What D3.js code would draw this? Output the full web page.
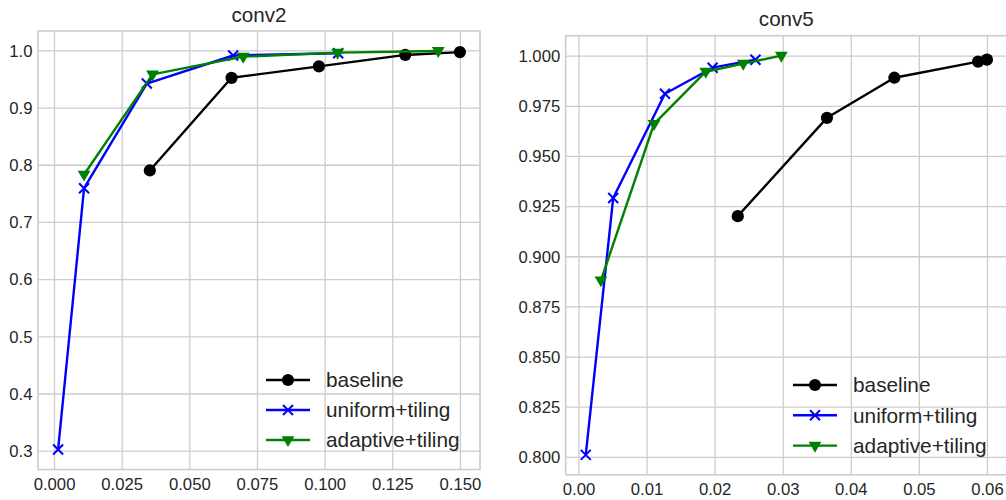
<!DOCTYPE html>
<html>
<head>
<meta charset="utf-8">
<script src="https://cdn.jsdelivr.net/npm/d3@7"></script>
<style>
  html, body { margin: 0; padding: 0; background: #ffffff; }
  svg { display: block; font-family: "Liberation Sans", Arial, sans-serif; }
</style>
</head>
<body>
<svg id="chart" width="1006" height="500"></svg>
<script>
// conv2: pruning ratio (x) vs. retained accuracy (y)
const conv2Baseline = [[0.0354, 0.790], [0.0656, 0.952], [0.0979, 0.972], [0.1298, 0.992], [0.150, 0.997]];
const conv2Uniform  = [[0.0015, 0.302], [0.0111, 0.759], [0.0343, 0.942], [0.0662, 0.991], [0.1050, 0.995]];
const conv2Adaptive = [[0.0111, 0.783], [0.0364, 0.958], [0.0699, 0.989], [0.1048, 0.996], [0.1420, 0.999]];

// conv5
const conv5Baseline = [[0.0234, 0.920], [0.0365, 0.969], [0.0464, 0.989], [0.0587, 0.997], [0.0600, 0.998]];
const conv5Uniform  = [[0.00107, 0.801], [0.0051, 0.929], [0.0127, 0.981], [0.0197, 0.994], [0.0260, 0.998]];
const conv5Adaptive = [[0.0033, 0.888], [0.0111, 0.966], [0.0187, 0.992], [0.0242, 0.996], [0.0298, 1.000]];

const seriesNames = ["baseline", "uniform+tiling", "adaptive+tiling"];

const conv2XTicks = [0, 0.025, 0.05, 0.075, 0.1, 0.125, 0.15];
const conv2YTicks = [0.3, 0.4, 0.5, 0.6, 0.7, 0.8, 0.9, 1.0];
const conv5XTicks = [0, 0.01, 0.02, 0.03, 0.04, 0.05, 0.06];
const conv5YTicks = [0.8, 0.825, 0.85, 0.875, 0.9, 0.925, 0.95, 0.975, 1.0];

const TEXT = "#262626";
const GRID = "#cccccc";
const styles = [
  { color: "#000000", marker: "circle" },
  { color: "#0000ff", marker: "x" },
  { color: "#008000", marker: "tri" }
];

const svg = d3.select("#chart");

const panels = [
  {
    title: "conv2",
    series: [conv2Baseline, conv2Uniform, conv2Adaptive],
    xTicks: conv2XTicks, yTicks: conv2YTicks,
    xFmt: d3.format(".3f"), yFmt: d3.format(".1f"),
    box: { left: 38, right: 480, top: 31, bottom: 469.5 },
    legend: { x: 266, y: 380, gap: 30 }
  },
  {
    title: "conv5",
    series: [conv5Baseline, conv5Uniform, conv5Adaptive],
    xTicks: conv5XTicks, yTicks: conv5YTicks,
    xFmt: d3.format(".2f"), yFmt: d3.format(".3f"),
    box: { left: 565.7, right: 1007, top: 35.7, bottom: 474.8 },
    legend: { x: 793, y: 385, gap: 30.3 }
  }
];

// 5% padding around the data extent on each axis
function padded(values) {
  const [lo, hi] = d3.extent(values);
  const m = (hi - lo) * 0.05;
  return [lo - m, hi + m];
}

function drawMarker(g, type, color, cx, cy) {
  if (type === "circle") {
    g.append("circle").attr("cx", cx).attr("cy", cy).attr("r", 6.1).attr("fill", color);
  } else if (type === "x") {
    const s = 5;
    g.append("path")
      .attr("d", `M${cx - s},${cy - s}L${cx + s},${cy + s}M${cx - s},${cy + s}L${cx + s},${cy - s}`)
      .attr("stroke", color).attr("stroke-width", 2).attr("fill", "none");
  } else {
    const w = 6.4, h = 6.4;
    g.append("path")
      .attr("d", `M${cx - w},${cy - h * 0.6}L${cx + w},${cy - h * 0.6}L${cx},${cy + h * 1.1}Z`)
      .attr("fill", color);
  }
}

panels.forEach(p => {
  const b = p.box;
  const all = p.series.flat();
  const x = d3.scaleLinear().domain(padded(all.map(d => d[0]))).range([b.left, b.right]);
  const y = d3.scaleLinear().domain(padded(all.map(d => d[1]))).range([b.bottom, b.top]);
  const w = b.right - b.left, h = b.bottom - b.top;

  const g = svg.append("g");

  // grid + tick labels
  const xAxis = g.append("g").attr("transform", `translate(0,${b.bottom})`)
    .call(d3.axisBottom(x).tickValues(p.xTicks).tickFormat(p.xFmt).tickSize(-h).tickPadding(8));
  const yAxis = g.append("g").attr("transform", `translate(${b.left},0)`)
    .call(d3.axisLeft(y).tickValues(p.yTicks).tickFormat(p.yFmt).tickSize(-w).tickPadding(6));
  [xAxis, yAxis].forEach(a => {
    a.select(".domain").remove();
    a.selectAll(".tick line").attr("stroke", GRID).attr("stroke-width", 1.3);
    a.selectAll(".tick text").attr("fill", TEXT).style("font-size", "16.7px")
      .style("font-family", "'Liberation Sans', Arial, sans-serif");
  });
  xAxis.selectAll(".tick text").attr("dy", null).attr("y", 20.5).attr("dominant-baseline", "alphabetic");
  yAxis.selectAll(".tick text").attr("x", -5.5).attr("dy", "0.35em");

  // frame
  g.append("rect").attr("x", b.left).attr("y", b.top).attr("width", w).attr("height", h)
    .attr("fill", "none").attr("stroke", GRID).attr("stroke-width", 1.6);

  // title
  g.append("text").attr("x", (b.left + b.right) / 2).attr("y", b.top - 9.5)
    .attr("text-anchor", "middle").attr("fill", TEXT).style("font-size", "20.6px").text(p.title);

  // series
  const line = d3.line().x(d => x(d[0])).y(d => y(d[1]));
  p.series.forEach((data, i) => {
    const st = styles[i];
    const sg = g.append("g");
    sg.append("path").datum(data).attr("d", line)
      .attr("fill", "none").attr("stroke", st.color).attr("stroke-width", 2.4)
      .attr("stroke-linejoin", "round");
    data.forEach(d => drawMarker(sg, st.marker, st.color, x(d[0]), y(d[1])));
  });

  // legend
  const L = p.legend;
  seriesNames.forEach((name, i) => {
    const st = styles[i];
    const ly = L.y + i * L.gap;
    const lg = g.append("g");
    lg.append("line").attr("x1", L.x).attr("x2", L.x + 44).attr("y1", ly).attr("y2", ly)
      .attr("stroke", st.color).attr("stroke-width", 2.4);
    drawMarker(lg, st.marker, st.color, L.x + 22, ly);
    lg.append("text").attr("x", L.x + 60).attr("y", ly).attr("dy", "0.35em")
      .attr("fill", TEXT).style("font-size", "20.8px").text(name);
  });
});
</script>
</body>
</html>
